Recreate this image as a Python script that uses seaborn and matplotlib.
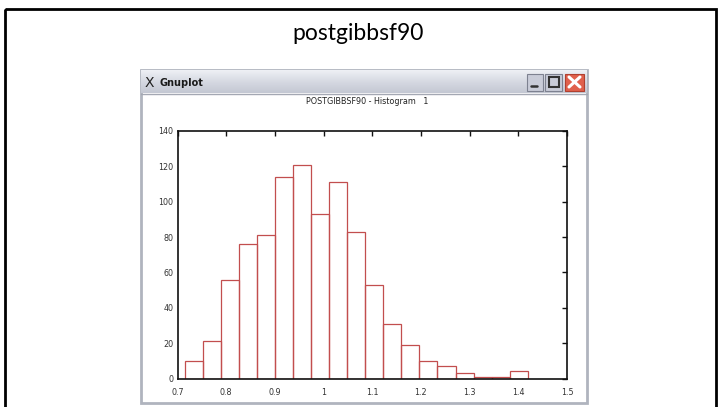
import numpy as np
import matplotlib
matplotlib.use('Agg')
import matplotlib.pyplot as plt
from matplotlib.patches import Rectangle
import seaborn as sns

# histogram
bin_edges = [0.716, 0.753, 0.790, 0.827, 0.864, 0.901, 0.938, 0.975, 1.012, 1.049,
             1.086, 1.123, 1.160, 1.197, 1.234, 1.271, 1.308, 1.346, 1.383, 1.420]
counts = [10, 21, 56, 76, 81, 114, 121, 93, 111, 83, 53, 31, 19, 10, 7, 3, 1, 1, 4]
x_ticks = [0.7, 0.8, 0.9, 1.0, 1.1, 1.2, 1.3, 1.4, 1.5]
x_labels = ['0.7', '0.8', '0.9', '1', '1.1', '1.2', '1.3', '1.4', '1.5']
y_ticks = [0, 20, 40, 60, 80, 100, 120, 140]

slide_title = 'postgibbsf90'
window_title = 'Gnuplot'
plot_title = 'POSTGIBBSF90 - Histogram   1'

sns.set_style('white')
plt.rcParams['font.family'] = ['DejaVu Sans']

W, H = 720, 407
fig = plt.figure(figsize=(W / 100, H / 100), dpi=100)

# background axes in pixel coords for slide + window decoration
bg = fig.add_axes([0, 0, 1, 1])
bg.set_xlim(0, W)
bg.set_ylim(H, 0)
bg.axis('off')

# slide border
bg.add_patch(Rectangle((5, 9), 711, 402, fill=False, edgecolor='#000000', lw=2.0))
bg.text(358, 33, slide_title, ha='center', va='center', fontsize=16.5,
        family=['Lato', 'DejaVu Sans'], color='#000000')

# window frame
bg.add_patch(Rectangle((140.5, 70), 446.5, 333, facecolor='white',
                       edgecolor='#b0b4be', lw=2.0))
grad = np.linspace(0, 1, 50).reshape(-1, 1)
bg.imshow(grad, extent=(141, 586.5, 93, 70.5), cmap=matplotlib.colors.LinearSegmentedColormap.from_list(
    'tb', ['#eef0f5', '#d6d9e2', '#c4c8d3']), aspect='auto', zorder=1)
bg.plot([141, 586.5], [93.5, 93.5], color='#a4a8b3', lw=1)
bg.text(145, 83, 'X', ha='left', va='center', fontsize=10,
        color='#222222', zorder=3)
bg.text(159, 83, window_title, ha='left', va='center', fontsize=7, fontweight='bold',
        color='#1a1a1a', zorder=3)
# title bar buttons
bg.add_patch(Rectangle((527, 73.5), 16, 17, facecolor='#c9ccd8', edgecolor='#7d8190', lw=0.8, zorder=3))
bg.plot([531, 537], [86, 86], color='#333333', lw=1.8, zorder=4)
bg.add_patch(Rectangle((545, 73.5), 17, 17, facecolor='#c9ccd8', edgecolor='#7d8190', lw=0.8, zorder=3))
bg.add_patch(Rectangle((549, 77), 9.5, 10, fill=False, edgecolor='#333333', lw=1.5, zorder=4))
bg.add_patch(Rectangle((565, 73.5), 19, 17, facecolor='#e0604c', edgecolor='#b04030', lw=0.8, zorder=3))
bg.plot([569, 580], [77, 87], color='white', lw=2.2, zorder=4)
bg.plot([569, 580], [87, 77], color='white', lw=2.2, zorder=4)

bg.text(367, 102, plot_title, ha='center', va='center', fontsize=5.8, color='#222222')

# gnuplot plot area
ax = fig.add_axes([177.5 / W, 1 - 378.5 / H, 389.5 / W, 247.5 / H])
centers = [(a + b) / 2 for a, b in zip(bin_edges[:-1], bin_edges[1:])]
sns.histplot(x=centers, weights=counts, bins=bin_edges, fill=False,
             color='#c24e4e', linewidth=0.9, ax=ax)
ax.set_xlim(0.7, 1.5)
ax.set_ylim(0, 140)
ax.set_xticks(x_ticks)
ax.set_xticklabels(x_labels)
ax.set_yticks(y_ticks)
ax.set_xlabel('')
ax.set_ylabel('')
ax.tick_params(direction='in', top=True, right=True, length=3.5, width=1,
               labelsize=5.8, labelcolor='#333333', color='#111111')
ax.tick_params(axis='y', pad=3)
ax.tick_params(axis='x', pad=7)
for s in ax.spines.values():
    s.set_visible(True)
    s.set_color('#111111')
    s.set_linewidth(1.2)
ax.set_facecolor('white')

fig.savefig('out.png', dpi=100)
